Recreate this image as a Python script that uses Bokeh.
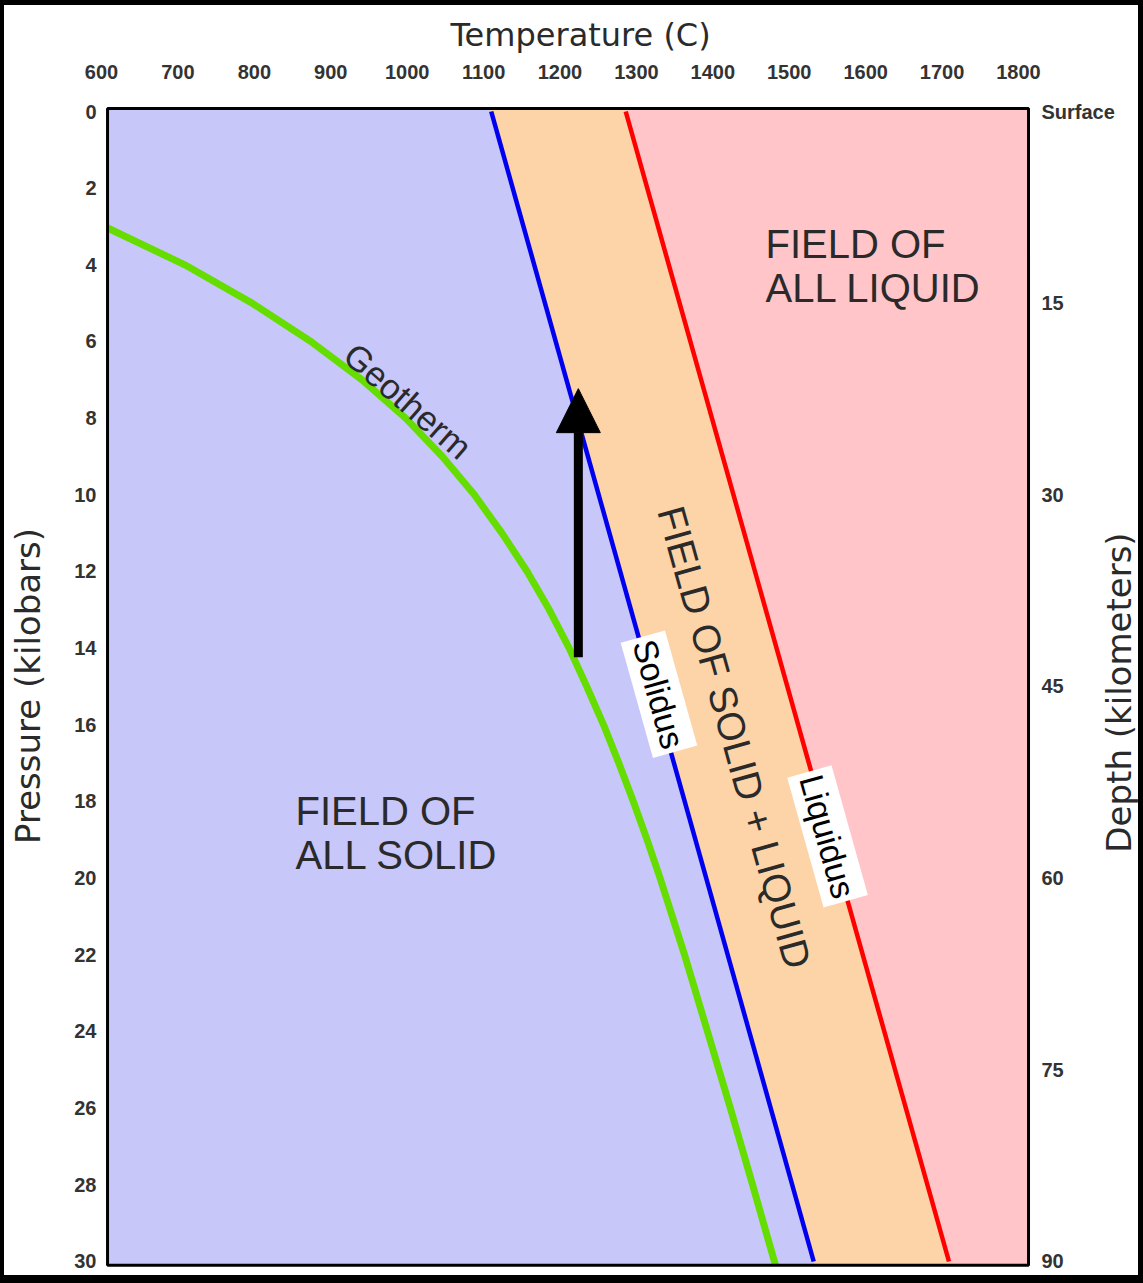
import numpy as np
from bokeh.plotting import figure
from bokeh.models import Range1d, FixedTicker, Arrow, NormalHead
from bokeh.core.properties import value
from bokeh.embed import file_html
from bokeh.resources import INLINE

# ---------------- data ----------------
temp_ticks = [600, 700, 800, 900, 1000, 1100, 1200, 1300, 1400, 1500, 1600, 1700, 1800]
pressure_ticks = [0, 2, 4, 6, 8, 10, 12, 14, 16, 18, 20, 22, 24, 26, 28, 30]
depth_ticks_km = [0, 15, 30, 45, 60, 75, 90]
depth_tick_labels = ["Surface", "15", "30", "45", "60", "75", "90"]

solidus_T = [1110, 1532]
solidus_P = [0, 30]
liquidus_T = [1286, 1709]
liquidus_P = [0, 30]
geotherm_P = [3.04, 4, 5, 6, 7, 8, 9, 10, 11, 12, 13, 14, 15, 16, 17, 18, 19, 20, 22, 24, 26, 28, 30.1]
geotherm_T = [608, 709, 797, 874, 941, 998, 1046, 1088, 1124, 1157, 1186, 1212, 1235, 1257,
              1277, 1296, 1314, 1331, 1363, 1393, 1423, 1452, 1482]
arrow_T = 1224
arrow_P_start = 14.24
arrow_P_end = 7.23

# diagram extent (coloured box)
T_min, T_max = 607.9, 1813.1
P_min, P_max = -0.08, 30.1
km_per_kbar = 3.0

# ---------------- layout (page pixels -> data) ----------------
px_per_T = 0.76417
px_per_P = 38.333
def T_at_px(px):
    return 600 + (px - 101) / px_per_T
def P_at_px(py):
    return (py - 111) / px_per_P

x0, x1 = T_at_px(100), T_at_px(1138)
y_top, y_bot = P_at_px(99), P_at_px(1272)

p = figure(width=1134, height=1270,
           x_range=Range1d(x0, x1), y_range=Range1d(y_bot, y_top),
           output_backend="svg", toolbar_location=None,
           x_axis_location="above",
           min_border_left=96, min_border_right=0,
           min_border_top=94, min_border_bottom=3)
p.xgrid.visible = False
p.ygrid.visible = False
p.outline_line_color = None
p.background_fill_color = "white"
p.border_fill_color = "white"
p.styles = {"margin": "5px 0px 0px 4px", "box-shadow": "0 0 0 8px #000000"}

TICK_FONT = "Liberation Sans"
TITLE_FONT = "DejaVu Sans"
TXT = "#2a2a2a"
LBL = "#333333"

# chart title acts as the temperature axis title (placed over the coloured box)
p.title.text = "Temperature (C)"
p.title.align = "left"
p.title.offset = 350
p.title.standoff = 15
p.title.text_font = TITLE_FONT
p.title.text_font_style = "normal"
p.title.text_font_size = "32px"
p.title.text_color = TXT

def style_axis(ax):
    ax.axis_line_color = None
    ax.major_tick_line_color = None
    ax.minor_tick_line_color = None
    ax.major_tick_out = 0
    ax.minor_tick_out = 0
    ax.major_tick_in = 0
    ax.minor_tick_in = 0
    ax.major_label_text_font = TICK_FONT
    ax.major_label_text_font_style = "bold"
    ax.major_label_text_font_size = "20px"
    ax.major_label_text_color = LBL
    ax.axis_label_text_font = TITLE_FONT
    ax.axis_label_text_font_style = "normal"
    ax.axis_label_text_font_size = "34px"
    ax.axis_label_text_color = TXT

xa = p.xaxis[0]
xa.ticker = FixedTicker(ticks=temp_ticks)
style_axis(xa)
xa.major_label_standoff = 21

ya = p.yaxis[0]
ya.ticker = FixedTicker(ticks=pressure_ticks)
ya.axis_label = "Pressure (kilobars)"
style_axis(ya)
ya.major_label_standoff = 4
ya.axis_label_standoff = 23

# ---------------- regions ----------------
def line_T(P, Ts, Ps):
    return Ts[0] + (Ts[1] - Ts[0]) * (P - Ps[0]) / (Ps[1] - Ps[0])

s_top, s_bot = line_T(P_min, solidus_T, solidus_P), line_T(P_max, solidus_T, solidus_P)
l_top, l_bot = line_T(P_min, liquidus_T, liquidus_P), line_T(P_max, liquidus_T, liquidus_P)

p.patch([T_min, s_top, s_bot, T_min], [P_min, P_min, P_max, P_max],
        fill_color="#C7C7FA", line_color="#C7C7FA", line_width=1)
p.patch([s_top, l_top, l_bot, s_bot], [P_min, P_min, P_max, P_max],
        fill_color="#FCD4A8", line_color="#FCD4A8", line_width=1)
p.patch([l_top, T_max, T_max, l_bot], [P_min, P_min, P_max, P_max],
        fill_color="#FFC5C8", line_color="#FFC5C8", line_width=1)

# ---------------- curves ----------------
p.line(solidus_T, solidus_P, line_color="#0000EE", line_width=4.5)
p.line(liquidus_T, liquidus_P, line_color="#FF0000", line_width=4.5)
p.line(geotherm_T, geotherm_P, line_color="#66DD00", line_width=7, line_join="round")

p.add_layout(Arrow(end=NormalHead(size=44, fill_color="black", line_color="black", line_width=1),
                   x_start=arrow_T, y_start=arrow_P_start, x_end=arrow_T, y_end=arrow_P_end,
                   line_color="black", line_width=9))

# border of the diagram
p.quad(left=[T_min], right=[T_max], top=[P_min], bottom=[P_max],
       fill_color=None, line_color="black", line_width=3)

# ---------------- right-hand depth scale ----------------
depth_P = [km / km_per_kbar for km in depth_ticks_km]
p.text(x=[T_at_px(1041)] * len(depth_P), y=depth_P, text=depth_tick_labels,
       text_font=value(TICK_FONT), text_font_style="bold", text_font_size="20px",
       text_color=LBL, text_align="left", text_baseline="middle")
p.text(x=[T_at_px(1118)], y=[P_at_px(692)], text=["Depth (kilometers)"], angle=np.pi / 2,
       text_font=value(TITLE_FONT), text_font_size="34px", text_color=TXT,
       text_align="center", text_baseline="middle")

# ---------------- texts ----------------
ang_sol = -np.arctan2(30 * px_per_P, (solidus_T[1] - solidus_T[0]) * px_per_T)
F = value("Liberation Sans")

p.text(x=[1468.9], y=[4.02], text=["FIELD OF\nALL LIQUID"], text_font=F,
       text_font_size="40px", text_color=TXT, text_align="left", text_baseline="middle",
       text_line_height=1.0)
p.text(x=[853.9], y=[18.81], text=["FIELD OF\nALL SOLID"], text_font=F,
       text_font_size="40px", text_color=TXT, text_align="left", text_baseline="middle",
       text_line_height=1.0)
p.text(x=[1001], y=[7.55], text=["Geotherm"], text_font=F, angle=np.deg2rad(-41),
       text_font_size="35px", text_color=TXT, text_align="center", text_baseline="middle")
p.text(x=[1428.3], y=[16.33], text=["FIELD OF SOLID + LIQUID"], text_font=F, angle=ang_sol,
       text_font_size="39px", text_color=TXT, text_align="center", text_baseline="middle")
p.text(x=[1329.5], y=[15.2], text=["Solidus"], text_font=F, angle=ang_sol,
       text_font_size="34px", text_color="black", text_align="center", text_baseline="middle",
       background_fill_color="white", padding=4)
p.text(x=[1550.1], y=[18.91], text=["Liquidus"], text_font=F, angle=ang_sol,
       text_font_size="34px", text_color="black", text_align="center", text_baseline="middle",
       background_fill_color="white", padding=4)

open("out.html", "w").write(file_html(p, INLINE))
